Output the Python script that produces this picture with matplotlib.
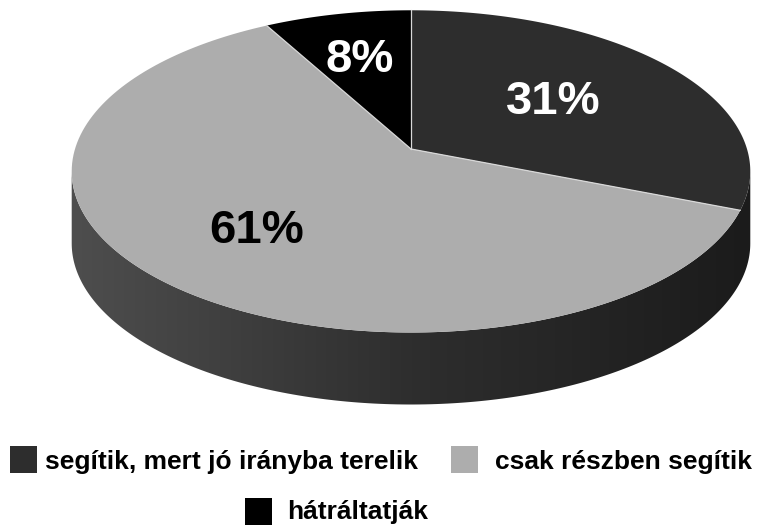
import numpy as np
import matplotlib
matplotlib.use("Agg")
import matplotlib.pyplot as plt
from matplotlib.patches import Polygon, Rectangle
from matplotlib.colors import LinearSegmentedColormap

# adatok
kategoriak = ["segítik, mert jó irányba terelik", "csak részben segítik", "hátráltatják"]
ertekek = [31, 61, 8]
szinek = ["#2d2d2d", "#adadad", "#000000"]
cimke_szinek = ["white", "black", "white"]

plt.rcParams['font.family'] = ['Liberation Sans', 'DejaVu Sans']

fig = plt.figure(figsize=(7.57, 5.26), dpi=100)
ax = fig.add_axes([0, 0, 1, 1])
ax.set_xlim(0, 757)
ax.set_ylim(526, 0)
ax.axis("off")

# 3D-s torta perspektivikus vetitese (pixelben)
x0, y0 = 411, 149      # a torta kozeppontja
A, B = 336, 158        # felsugarak
k = 0.139              # perspektiva
melyseg = 72           # oldalfal magassaga


def vetit(u, v, dy=0):
    w = 1 - k * v
    return x0 + A * u / w, y0 + B * v / w + dy


# oldalfal (elulso fel)
t0 = np.arcsin(k)
t = np.linspace(t0, np.pi - t0, 200)
fx, fy = vetit(np.cos(t), np.sin(t))
ax_, ay_ = vetit(np.cos(t[::-1]), np.sin(t[::-1]), melyseg)
oldal = Polygon(np.column_stack([np.r_[fx, ax_], np.r_[fy, ay_]]),
                closed=True, facecolor="none", edgecolor="none")
ax.add_patch(oldal)
cmap = LinearSegmentedColormap.from_list("oldal", ["#4e4e4e", "#2e2e2e", "#1b1b1b"])
grad = np.linspace(0, 1, 256).reshape(1, -1)
im = ax.imshow(grad, cmap=cmap, aspect="auto",
               extent=[fx.min() - 2, fx.max() + 2, max(ay_) + 2, min(fy) - 2],
               zorder=1)
im.set_clip_path(oldal)

# felso lap szeletei (12 oratol az oramutato jarasaval)
osszeg = sum(ertekek)
szog = 0.0
hatarok = []
for ertek, szin in zip(ertekek, szinek):
    veg = szog + ertek / osszeg * 2 * np.pi
    th = np.linspace(szog, veg, 150)
    px, py = vetit(np.sin(th), -np.cos(th))
    pts = np.column_stack([np.r_[x0, px], np.r_[y0, py]])
    ax.add_patch(Polygon(pts, closed=True, facecolor=szin, edgecolor="none", zorder=2))
    hatarok.append(szog)
    szog = veg

for h in hatarok:
    ex, ey = vetit(np.sin(h), -np.cos(h))
    ax.plot([x0, ex], [y0, ey], color="#d8d8d8", lw=0.9, zorder=3)

# szazalekos feliratok
cimke_hely = [(553, 114), (257, 243), (360, 72)]
for ertek, (cx, cy), c in zip(ertekek, cimke_hely, cimke_szinek):
    ax.text(cx, cy, f"{ertek}%", ha="center", va="baseline", fontsize=34,
            fontweight="bold", color=c, zorder=4)

# jelmagyarazat
jel_hely = [(10, 446, 45, 469), (451, 446, 495, 469), (245, 498, 287, 519)]
for nev, szin, (sx, sy, tx, ty) in zip(kategoriak, szinek, jel_hely):
    ax.add_patch(Rectangle((sx, sy), 27, 27, facecolor=szin, edgecolor="none"))
    ax.text(tx, ty, nev, ha="left", va="baseline", fontsize=19,
            fontweight="bold", color="black")

fig.savefig("out.png", dpi=100)
